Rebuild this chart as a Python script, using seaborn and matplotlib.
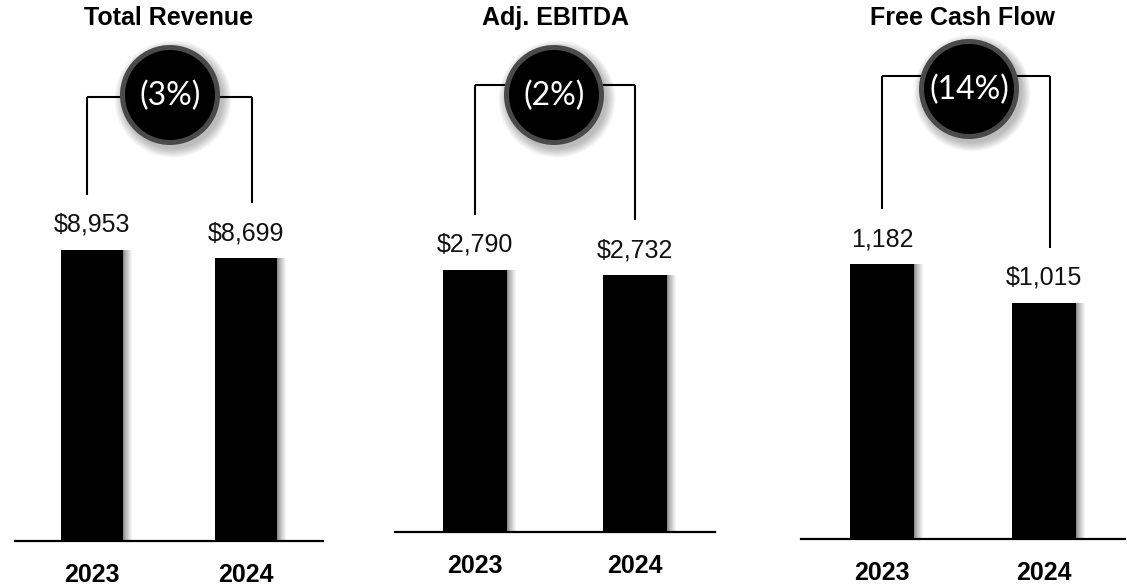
import numpy as np
import matplotlib
matplotlib.use("Agg")
import matplotlib.pyplot as plt
import seaborn as sns
from matplotlib.patches import Circle
from matplotlib.transforms import Affine2D, blended_transform_factory

# ---- data -------------------------------------------------------------
years = ["2023", "2024"]
revenue = [8953, 8699]
ebitda = [2790, 2732]
free_cash_flow = [1182, 1015]
titles = ["Total Revenue", "Adj. EBITDA", "Free Cash Flow"]
label_prefixes = [["$", "$"], ["$", "$"], ["", "$"]]
changes = ["(3%)", "(2%)", "(14%)"]

# ---- canvas -----------------------------------------------------------
W, H = 1127, 586
sns.set_theme(style="white")
plt.rcParams["font.family"] = ["Liberation Sans", "DejaVu Sans"]

fig = plt.figure(figsize=(W / 100, H / 100), dpi=100)
fig.patch.set_facecolor("white")
# pixel coordinates measured from the top-left corner of the figure
px = Affine2D().scale(1 / W, -1 / H).translate(0, 1) + fig.transFigure

# per-panel layout (pixels) and y-axis extent
panels = [
    dict(values=revenue, left=15, right=323, base=541, ymax=16644,
         bracket_y=97, circle=(170, 95), legs=(-0.03, 1.04)),
    dict(values=ebitda, left=395, right=715, base=532, ymax=5665,
         bracket_y=85, circle=(554, 95), legs=(0.0, 1.0)),
    dict(values=free_cash_flow, left=801, right=1125, base=539, ymax=2317,
         bracket_y=76, circle=(969, 89), legs=(0.0, 1.04)),
]

BAR_W = 0.4
LEG_GAP = 55  # px between the top of a bar and the bottom of its bracket leg

overlay = fig.add_axes([0, 0, 1, 1], zorder=10)
overlay.set_xlim(0, W)
overlay.set_ylim(H, 0)
overlay.axis("off")
overlay.patch.set_alpha(0)

for p, title, prefixes, change in zip(panels, titles, label_prefixes, changes):
    vals = p["values"]
    ax = fig.add_axes([p["left"] / W, (H - p["base"]) / H,
                       (p["right"] - p["left"]) / W, p["base"] / H])
    ax.patch.set_alpha(0)

    # soft shadow on the right edge of every bar
    n_strips = 10
    span = 10 / ((p["right"] - p["left"]) / 2.0)  # ~10 px in data units
    dx = span / n_strips
    xs = np.arange(len(vals))
    for k in range(n_strips):
        g = 0.55 + 0.45 * (k / (n_strips - 1)) ** 0.8
        ax.bar(xs + BAR_W / 2 + (k + 0.5) * dx, vals, width=dx,
               color=(g, g, g), linewidth=0, zorder=1)

    sns.barplot(x=years, y=vals, ax=ax, color="black", width=BAR_W,
                saturation=1, linewidth=0, zorder=2)

    ax.set_xlim(-0.5, 1.5)
    ax.set_ylim(0, p["ymax"])
    for s in ("left", "right", "top"):
        ax.spines[s].set_visible(False)
    ax.spines["bottom"].set_color("black")
    ax.spines["bottom"].set_linewidth(1.6)
    ax.set_yticks([])
    ax.set_xlabel("")
    ax.set_ylabel("")
    ax.tick_params(axis="x", length=0, pad=16)
    for lab in ax.get_xticklabels():
        lab.set_fontsize(18)
        lab.set_fontweight("bold")
        lab.set_color("black")

    # value labels
    for i, v in enumerate(vals):
        ax.annotate(f"{prefixes[i]}{v:,}", (i, v), xytext=(0, 18),
                    textcoords="offset points", ha="center", va="center",
                    fontsize=18, color="#111111")

    # title
    tr = blended_transform_factory(ax.transData, px)
    ax.text(0.5, 18, title, transform=tr, ha="center", va="center",
            fontsize=18, fontweight="bold", color="black", clip_on=False)

    # bracket linking the two bars
    by = p["bracket_y"]
    lx = p["legs"]
    tops = [H - ax.transData.transform((i, v))[1] for i, v in enumerate(vals)]
    ax.plot([lx[0], lx[1]], [by, by], transform=tr, color="black", lw=1.5,
            clip_on=False, solid_capstyle="butt")
    for i, t in enumerate(tops):
        ax.plot([lx[i], lx[i]], [by, t - LEG_GAP], transform=tr,
                color="black", lw=1.5, clip_on=False, solid_capstyle="butt")

    # change badge
    cx, cy = p["circle"]
    for k in range(8):
        overlay.add_patch(Circle((cx + 3, cy + 4), 50 + 1.2 * (7 - k),
                                 facecolor="black", edgecolor="none",
                                 alpha=0.035))
    overlay.add_patch(Circle((cx, cy), 47.5, facecolor="black",
                             edgecolor="#4a4a4a", linewidth=3.6))
    overlay.text(cx, cy + 1, change, ha="center", va="center", color="white",
                 fontsize=23, fontweight="normal",
                 family=["Lato", "DejaVu Sans"])

fig.savefig("out.png", dpi=100, facecolor="white")
